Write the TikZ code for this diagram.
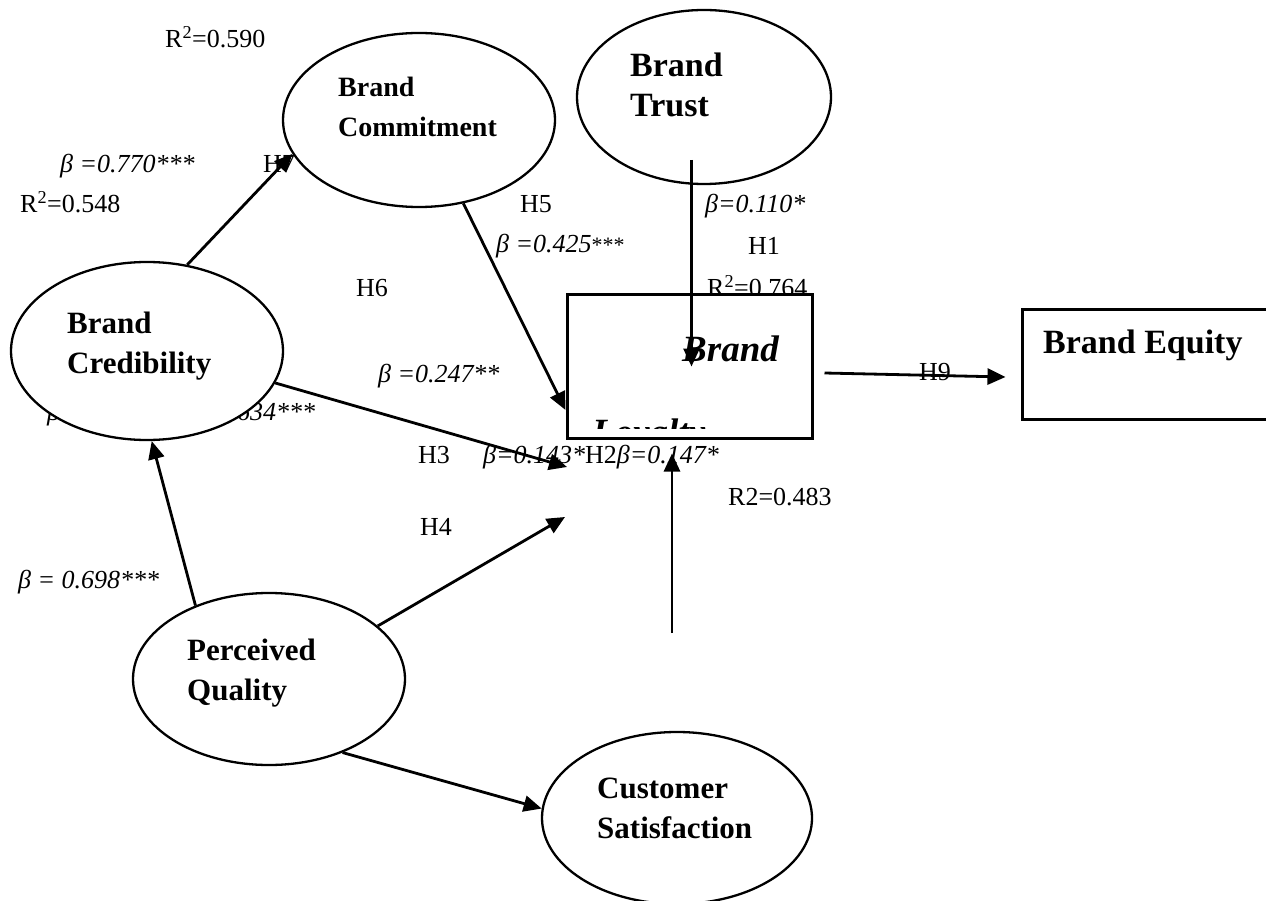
\documentclass[tikz,border=0pt]{standalone}
\usepackage{fontspec}
\setmainfont{Liberation Serif}
\usetikzlibrary{arrows.meta,shapes.geometric}

\begin{document}
\begin{tikzpicture}[x=1pt,y=-1pt,
  lbl/.style={font=\fontsize{26}{30}\selectfont,inner sep=0pt,anchor=base west},
  oval/.style={ellipse,draw,line width=2.3pt,fill=white,inner sep=0pt},
  box/.style={rectangle,draw,line width=3pt,fill=white,inner sep=0pt},
  cname/.style={font=\bfseries\fontsize{31}{40}\selectfont,align=left,inner sep=0pt,anchor=base west},
  arr/.style={line width=2.8pt,-{Triangle[length=18pt,width=16pt]}}]
\clip (0,0) rectangle (1266,901);
\fill[white] (0,0) rectangle (1266,901);

\node[lbl] (r2comm) at (165,48) {R\textsuperscript{2}=0.590};
\node[lbl] (b770) at (60,173) {\itshape β =0.770***};
\node[lbl] (h7) at (263,173) {H7};
\node[lbl] (r2cred) at (20,213) {R\textsuperscript{2}=0.548};
\node[lbl] (h5) at (520,213) {H5};
\node[lbl] (b110) at (705,213) {\itshape β=0.110*};
\node[lbl] (b425) at (496,253) {\textit{β =0.425}{\fontsize{22}{26}\selectfont***}};
\node[lbl] (h1) at (748,255) {H1};
\node[lbl] (h6) at (356,297) {H6};
\node[lbl] (r2loy) at (707,297) {R\textsuperscript{2}=0.764};
\node[lbl] (b247) at (378,382) {\textit{β =0.247}**};
\node[lbl] (b634) at (47,420) {\itshape β\hspace{140pt}=0.634***};
\node[lbl] (h3) at (418,463) {H3};
\node[lbl] (b143) at (483,463) {\textit{β=0.143*}H2\textit{β=0.147*}};
\node[lbl] (r2sat) at (728,505) {R2=0.483};
\node[lbl] (h4) at (420,535) {H4};
\node[lbl] (b698) at (18,588) {\itshape β = 0.698***};
\node[lbl] (h9) at (919,380) {H9};

\node[oval,minimum width=272pt,minimum height=174pt] (comm) at (419,120) {};
\node[oval,minimum width=254pt,minimum height=174pt] (trust) at (704,97) {};
\node[oval,minimum width=272pt,minimum height=178pt] (cred) at (147,351) {};
\node[oval,minimum width=272pt,minimum height=172pt] (qual) at (269,679) {};
\node[oval,minimum width=270pt,minimum height=172pt] (sat) at (677,818) {};
\node[box,minimum width=245pt,minimum height=143pt] (loy) at (689.5,366.5) {};
\node[box,minimum width=260pt,minimum height=110pt] (eq) at (1152,364) {};

\node[cname,font=\bfseries\fontsize{28}{40}\selectfont] (commtxt) at (338,137) {Brand\\Commitment};
\node[cname,font=\bfseries\fontsize{34}{40}\selectfont] (trusttxt) at (630,117) {Brand\\Trust};
\node[cname] (credtxt) at (67,373) {Brand\\Credibility};
\node[cname] (qualtxt) at (187,700) {Perceived\\Quality};
\node[cname] (sattxt) at (597,838) {Customer\\Satisfaction};
\node[cname,font=\bfseries\fontsize{34}{40}\selectfont] (eqtxt) at (1043,353) {Brand Equity};
\node[cname,font=\bfseries\itshape\fontsize{37}{40}\selectfont] (loytxt) at (682,361) {Brand};
\begin{scope}
\clip (loy.north west) rectangle ([yshift=11pt]loy.south east);
\node[cname,font=\bfseries\itshape\fontsize{37}{40}\selectfont] (loytxt2) at (592,444) {Loyalty};
\end{scope}

\coordinate (pin3) at (567,467);
\coordinate (pin4) at (565,517);
\coordinate (src) at (672,633);
\draw[arr] (cred.65) -- (comm.195);
\draw[arr] (comm.298) -- ([yshift=-43.5pt]loy.west);
\draw[arr] ([shift={(-12.5,63)}]trust.center) -- ([xshift=2pt]loy.center);
\draw[arr] (cred.346) -- (pin3);
\draw[arr] (qual.26) -- (pin4);
\draw[arr] (src) -- ([shift={(-17.5,14)}]loy.south);
\draw[arr] ([shift={(11,6.5)}]loy.east) -- ([shift={(-15,13)}]eq.west);
\draw[arr] (qual.135) -- (cred.273);
\draw[arr] (qual.315) -- (sat.176);
\end{tikzpicture}
\end{document}
